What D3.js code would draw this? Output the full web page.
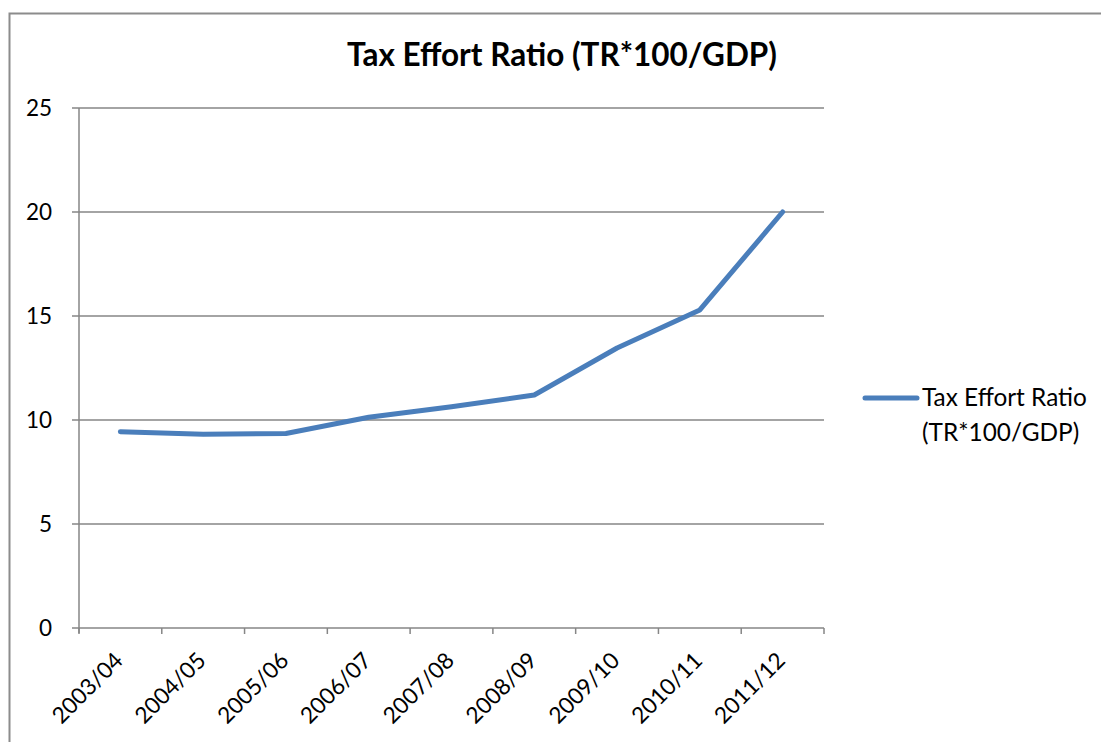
<!DOCTYPE html>
<html>
<head>
<meta charset="utf-8">
<script src="https://cdn.jsdelivr.net/npm/d3@7"></script>
<style>
  html, body { margin: 0; padding: 0; background: #fff; }
  svg { display: block; font-family: Lato, "Open Sans", sans-serif; }
</style>
</head>
<body>
<svg id="chart" width="1101" height="742"></svg>
<script>
// Fiscal years on the category axis
const categories = ["2003/04", "2004/05", "2005/06", "2006/07", "2007/08",
                    "2008/09", "2009/10", "2010/11", "2011/12"];
// Tax revenue as a percentage of GDP
const seriesValues = [9.44, 9.31, 9.35, 10.13, 10.64, 11.2, 13.46, 15.29, 20.0];
const yTickValues = [0, 5, 10, 15, 20, 25];
const seriesName = "Tax Effort Ratio (TR*100/GDP)";
const legendLines = ["Tax Effort Ratio", "(TR*100/GDP)"];

const svg = d3.select("#chart");
const plot = { left: 79, right: 824, top: 108, bottom: 628 };
const axisGray = "#868686";
const lineBlue = "#4a7ebb";

// Chart frame
svg.append("path")
  .attr("d", "M9.5,742 V13.5 H1101")
  .attr("fill", "none")
  .attr("stroke", "#8c8c8c")
  .attr("stroke-width", 2);

const x = d3.scaleBand().domain(categories).range([plot.left, plot.right]).padding(0);
const y = d3.scaleLinear().domain([0, 25]).range([plot.bottom, plot.top]);
const cx = c => x(c) + x.bandwidth() / 2;

// Fit a text node's font size so it spans a given width
function fitWidth(sel, target) {
  sel.each(function () {
    const t = d3.select(this);
    const fs = parseFloat(t.attr("font-size"));
    const w = this.getComputedTextLength();
    if (w > 0) t.attr("font-size", (fs * target / w).toFixed(2));
  });
}

// Title
const title = svg.append("text")
  .attr("x", 562).attr("y", 66)
  .attr("text-anchor", "middle")
  .attr("font-size", 26).attr("font-weight", "bold")
  .attr("fill", "#000")
  .text(seriesName);
fitWidth(title, 430);

// Horizontal gridlines and y tick marks
const gy = svg.append("g");
gy.selectAll("line.grid").data(yTickValues).join("line")
  .attr("class", "grid")
  .attr("x1", plot.left - 7).attr("x2", plot.right)
  .attr("y1", d => y(d)).attr("y2", d => y(d))
  .attr("stroke", axisGray).attr("stroke-width", 1.5);

gy.selectAll("text").data(yTickValues).join("text")
  .attr("x", 52).attr("y", d => y(d))
  .attr("dy", "0.36em")
  .attr("text-anchor", "end")
  .attr("font-size", 22.5)
  .attr("fill", "#000")
  .text(d => d);

// Vertical axis line
svg.append("line")
  .attr("x1", plot.left).attr("x2", plot.left)
  .attr("y1", plot.top).attr("y2", plot.bottom + 5)
  .attr("stroke", axisGray).attr("stroke-width", 1.5);

// Category tick marks at band boundaries
const boundaries = categories.map(c => x(c)).concat([x.range()[1]]);
svg.append("g").selectAll("line").data(boundaries).join("line")
  .attr("x1", d => d).attr("x2", d => d)
  .attr("y1", plot.bottom).attr("y2", plot.bottom + 6)
  .attr("stroke", axisGray).attr("stroke-width", 1.5);

// Rotated category labels
const xLabels = svg.append("g").selectAll("text").data(categories).join("text")
  .attr("transform", c => `translate(${cx(c) + 4},${plot.bottom + 34}) rotate(-45)`)
  .attr("text-anchor", "end")
  .attr("font-size", 22)
  .attr("fill", "#000")
  .text(c => c);
fitWidth(xLabels, 89);

// Data line
const line = d3.line()
  .x((d, i) => cx(categories[i]))
  .y(d => y(d));
svg.append("path")
  .datum(seriesValues)
  .attr("d", line)
  .attr("fill", "none")
  .attr("stroke", lineBlue)
  .attr("stroke-width", 5)
  .attr("stroke-linecap", "round")
  .attr("stroke-linejoin", "round");

// Legend
const lg = svg.append("g");
lg.append("line")
  .attr("x1", 865).attr("x2", 917)
  .attr("y1", 398).attr("y2", 398)
  .attr("stroke", lineBlue).attr("stroke-width", 5)
  .attr("stroke-linecap", "round");
const legendText = lg.selectAll("text").data(legendLines).join("text")
  .attr("x", 922)
  .attr("y", (d, i) => 406 + i * 35)
  .attr("font-size", 22)
  .attr("fill", "#000")
  .text(d => d);
fitWidth(legendText.filter((d, i) => i === 0), 165);
legendText.filter((d, i) => i === 1)
  .attr("font-size", legendText.filter((d, i) => i === 0).attr("font-size"));
</script>
</body>
</html>
